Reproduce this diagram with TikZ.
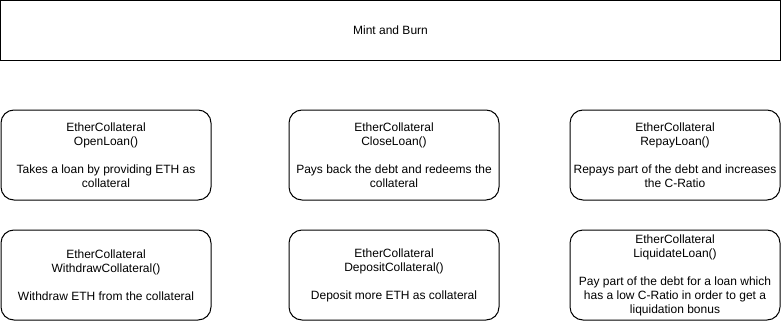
\documentclass[tikz,border=0pt]{standalone}
\usepackage{fontspec}
\setmainfont{Liberation Sans}
\begin{document}
\begin{tikzpicture}[x=1pt,y=-1pt,
  every node/.style={font=\fontsize{12}{14}\selectfont, align=center, inner sep=0pt},
  header/.style={draw, line width=1pt, minimum width=780pt, minimum height=60pt},
  fnbox/.style={draw, line width=1pt, rounded corners=13pt, minimum width=210pt, minimum height=90pt}]
\useasboundingbox (0,0) rectangle (781,321);
\node[header] (mint) at (390.5,30.5) {Mint and Burn};
\node[fnbox] (open) at (106,155) {EtherCollateral\\OpenLoan()\\[14pt]Takes a loan by providing ETH as\\collateral};
\node[fnbox] (close) at (394,155) {EtherCollateral\\CloseLoan()\\[14pt]Pays back the debt and redeems the\\collateral};
\node[fnbox] (repay) at (675,155) {EtherCollateral\\RepayLoan()\\[14pt]Repays part of the debt and increases\\the C-Ratio};
\node[fnbox] (withdraw) at (106,275) {EtherCollateral\\WithdrawCollateral()\\[14pt]Withdraw ETH from the collateral};
\node[fnbox] (deposit) at (394,275) {EtherCollateral\\DepositCollateral()\\[14pt]Deposit more ETH as collateral};
\node[fnbox] (liquidate) at (675,275) {EtherCollateral\\LiquidateLoan()\\[14pt]Pay part of the debt for a loan which\\has a low C-Ratio in order to get a\\liquidation bonus};
\end{tikzpicture}
\end{document}
